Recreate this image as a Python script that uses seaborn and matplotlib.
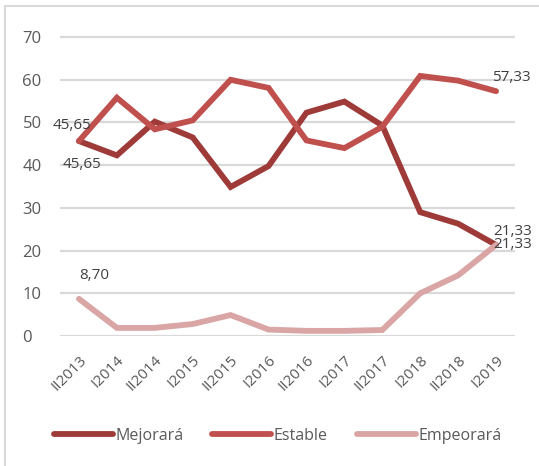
import matplotlib
matplotlib.use("Agg")
import matplotlib.pyplot as plt
import seaborn as sns
import pandas as pd
from matplotlib.patches import Rectangle

sns.set_style("white")
plt.rcParams['font.family'] = ['Open Sans', 'DejaVu Sans']

# data
periods = ["II2013", "I2014", "II2014", "I2015", "II2015", "I2016",
           "II2016", "I2017", "II2017", "I2018", "II2018", "I2019"]
mejorara = [45.65, 42.3, 50.2, 46.5, 34.9, 39.8, 52.3, 54.9, 49.3, 29.0, 26.3, 21.33]
estable = [45.65, 55.8, 48.4, 50.5, 60.0, 58.1, 45.8, 44.0, 49.0, 60.9, 59.8, 57.33]
empeorara = [8.70, 1.9, 1.9, 2.8, 4.9, 1.5, 1.2, 1.2, 1.4, 10.0, 14.2, 21.33]
yticks = [0, 10, 20, 30, 40, 50, 60, 70]

series = ["Mejorará", "Estable", "Empeorará"]
colors = ["#9E3B39", "#C0504D", "#D9A6A5"]

rows = []
for name, vals in zip(series, [mejorara, estable, empeorara]):
    for i, v in enumerate(vals):
        rows.append({"pos": i, "valor": v, "serie": name})
df = pd.DataFrame(rows)

fig = plt.figure(figsize=(5.39, 4.66), dpi=100)
ax = fig.add_axes([0.1113, 0.279, 0.8442, 0.646])

sns.lineplot(data=df, x="pos", y="valor", hue="serie", hue_order=series,
             palette=colors, linewidth=4.2, ax=ax, legend=True)
for line in ax.lines:
    line.set_solid_capstyle("round")
    line.set_solid_joinstyle("miter")

ax.set_xlim(-0.5, len(periods) - 0.5)
ax.set_ylim(0, 70.5)
ax.tick_params(axis="both", length=0, labelsize=11, colors="#595959")
ax.tick_params(axis="x", pad=12)
ax.tick_params(axis="y", pad=27, labelsize=12)
ax.set_xticks(range(len(periods)), labels=periods, rotation=45, ha="right",
              rotation_mode="anchor")
ax.set_yticks(yticks, labels=[str(v) for v in yticks], ha="left")
ax.yaxis.grid(True, color="#D9D9D9", linewidth=1.6)
ax.set_axisbelow(True)
for s in ax.spines.values():
    s.set_visible(False)
ax.set_xlabel("")
ax.set_ylabel("")

# data labels
lab = dict(fontsize=11, color="#404040", ha="center", va="center", textcoords="offset points")
ax.annotate("45,65", (0, estable[0]), xytext=(-5, 11), **lab)
ax.annotate("45,65", (0, mejorara[0]), xytext=(2, -17), **lab)
ax.annotate("8,70", (0, empeorara[0]), xytext=(11, 17), **lab)
ax.annotate("57,33", (11, estable[-1]), xytext=(11, 10), **lab)
ax.annotate("21,33", (11, mejorara[-1]), xytext=(12, 10), **lab)
ax.annotate("21,33", (11, empeorara[-1]), xytext=(12, 0), **lab)

handles, labels = ax.get_legend_handles_labels()
ax.legend(handles, labels, loc="center", bbox_to_anchor=(0.515, 0.065),
          bbox_transform=fig.transFigure, ncol=3, frameon=False,
          handlelength=3.7, handletextpad=0.15, columnspacing=1.8,
          fontsize=11.5, labelcolor="#595959")

# outer chart border (left and top visible)
fig.patches.append(Rectangle((5 / 539, -0.1), 2, 1.1 - 6 / 466, transform=fig.transFigure,
                             fill=False, edgecolor="#D9D9D9", linewidth=1.5))

fig.savefig("out.png", dpi=100)
